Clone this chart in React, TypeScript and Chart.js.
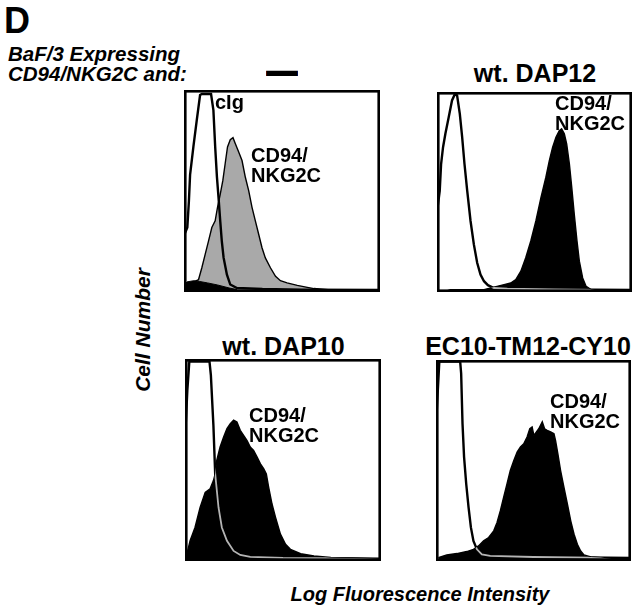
import React, { useEffect, useRef } from "react";
import { Chart, registerables } from "chart.js";

Chart.register(...registerables);

type Pt = [number, number];

// ---- data (x = position across the log-fluorescence axis, 0-100; y = relative cell number, 0-100) ----
const figureLetter = "D";
const headerLines = ["BaF/3 Expressing", "CD94/NKG2C and:"];
const panelTitles = ["—", "wt. DAP12", "wt. DAP10", "EC10-TM12-CY10"];
const xAxisTitle = "Log Fluorescence Intensity";
const yAxisTitle = "Cell Number";
const controlLabel = "cIg";
const stainLabel = ["CD94/", "NKG2C"];

// Panel 1: "—" (no adaptor)
const p1Control: Pt[] = [[0,28],[1.7,32],[2.5,45],[3.1,58],[4.8,72],[6.5,85],[8.2,97.5],[9.1,98],[13.8,98],[15,90],[15.9,72],[16.8,57],[17.6,47],[18.5,35],[19.3,25],[20.2,17],[21.9,8.6],[23.6,3.7],[27,2],[40,1.5],[60,1.2],[100,1.0]];
const p1Stain: Pt[] = [[1,1],[3.1,4.5],[5.6,5.3],[7.4,6.1],[9.1,12],[10.8,18.6],[12.5,25.2],[14.2,31.9],[15.9,35.2],[17.1,41.9],[18.5,48.5],[19.8,55.1],[21,63.5],[22.2,71.8],[23.6,75.4],[25,76.4],[26.2,73.4],[27.9,69.3],[29.6,65.1],[31.3,56.8],[33,50.2],[34.7,41.9],[36.4,35.2],[38.1,28.6],[39.8,21.9],[41.5,16.9],[44.1,12],[46.7,7.8],[49.2,5.6],[52.6,4.5],[57.8,3.3],[62.9,2.3],[66.3,1.7],[75,1],[100,0.8]];
const p1StainLow: Pt[] = [[0,3],[1.5,5],[5,5.6],[8,5.2],[12,4.5],[17,3.5],[23,2],[27,1.2]];

// Panel 2: wt. DAP12
const p2Control: Pt[] = [[0,40],[1.4,50.6],[2.1,64],[3.1,72.4],[4.3,79.1],[6,87.4],[7.7,95.8],[9.1,98.8],[10.3,98.3],[11.7,89.1],[12.9,77.4],[14.1,64],[15.5,50.6],[17.2,35.5],[18.9,23.8],[20.6,14.6],[22.3,8.7],[24.1,5.4],[26.1,3.4],[29.2,2],[36.1,1.7],[60,1.3],[100,1.0]];
const p2Stain: Pt[] = [[5,0.5],[6.9,1.2],[24.1,1.2],[34.4,3.7],[37.8,4.5],[40.4,6.2],[43,10.4],[45.5,17.1],[48.1,25.5],[50.7,35.5],[53.3,47.2],[55.8,57.3],[57.6,65.7],[59.3,72.4],[61,77.4],[62.7,80.7],[63.9,81.6],[65.3,79.1],[66.5,74],[67.9,64],[69.1,52.3],[70.4,38.9],[71.8,25.5],[73,15.4],[74.7,7],[76.5,2.8],[79,1.2],[85,0.5]];

// Panel 3: wt. DAP10
const p3Control: Pt[] = [[0,60],[1.2,84.6],[2.2,98.7],[12.5,98.7],[13.2,92],[14.5,67],[15.4,43.1],[17.1,26.5],[18.8,16.6],[21.4,10],[24.8,5],[28.2,3],[33.3,2],[50,1.5],[100,1.2]];
const p3Stain: Pt[] = [[0.9,3.3],[2.6,10],[5.1,16.6],[7.7,26.5],[10.3,34],[12.8,35.7],[14.5,39.8],[15.4,43.1],[16.2,49.8],[17.9,56.4],[19.7,61.4],[21.4,65.5],[23.1,68],[24.8,69.7],[26.5,68.8],[28.2,64.7],[29.9,62.2],[31.6,59.7],[33.3,56.4],[35,54.7],[36.8,51.4],[38.5,48.1],[40.2,45.6],[41.5,43.1],[42.7,36.5],[44.4,28.2],[46.2,21.6],[48.7,13.3],[51.3,8.3],[53.8,5.8],[59,3.6],[65.8,2.5],[74.4,1.7],[91.5,1.3],[100,1]];

// Panel 4: EC10-TM12-CY10
const p4Control: Pt[] = [[0,50],[0.3,73.3],[1.7,99.2],[12.4,99.2],[12.9,93.3],[13.6,68.3],[14.4,51.7],[15.5,38.3],[16.7,26.7],[17.9,16.7],[19.2,10],[21,5.8],[23.5,3.3],[27.8,2.5],[50,2],[100,1.5]];
const p4Stain: Pt[] = [[1.2,1.7],[5.5,3],[10.7,3.7],[15.8,4.7],[19.2,5.8],[21.8,7.5],[24.4,10],[27,11.7],[29.6,15],[31.3,19.2],[33,25],[34.7,31.7],[36.4,38.3],[38.1,45],[39.9,50],[41.6,54.2],[43.3,56.7],[45,58.3],[46.7,61.7],[48.1,65.8],[49.3,66.7],[50.2,62.5],[51.5,64.2],[52.7,65.8],[54.5,69.2],[55.7,65.8],[57,65],[58.8,64.2],[60.5,63.3],[61.3,60],[62.5,53.3],[63.9,45],[65.6,36.7],[67.4,28.3],[69.1,20],[70.8,13.3],[72.5,8.3],[74.2,5],[75.9,3],[79.4,2],[84.5,1.7],[90,1]];

const FONT = "'Liberation Sans', Arial, Helvetica, sans-serif";

const boxPlugin = {
  id: "panelBox",
  afterDraw(chart: any) {
    const ctx = chart.ctx;
    ctx.save();
    ctx.strokeStyle = "#000";
    ctx.lineWidth = 2.6;
    ctx.strokeRect(1.3, 1.3, chart.width - 2.6, chart.height - 2.6);
    ctx.restore();
  },
};

const overlayPlugin = {
  id: "controlOverFill",
  afterDatasetsDraw(chart: any, _args: any, opts: any) {
    if (!opts || !opts.enabled) return;
    const ctx = chart.ctx;
    const fillMeta = chart.getDatasetMeta(opts.fillIndex);
    const lineMeta = chart.getDatasetMeta(0);
    const y0 = chart.scales.y.getPixelForValue(0);
    const fp = fillMeta.data;
    if (!fp.length) return;
    ctx.save();
    ctx.beginPath();
    ctx.moveTo(fp[0].x, y0);
    fp.forEach((p: any) => ctx.lineTo(p.x, p.y));
    ctx.lineTo(fp[fp.length - 1].x, y0);
    ctx.closePath();
    ctx.clip();
    ctx.beginPath();
    lineMeta.data.forEach((p: any, i: number) => (i ? ctx.lineTo(p.x, p.y) : ctx.moveTo(p.x, p.y)));
    ctx.strokeStyle = "#b4b4b4";
    ctx.lineWidth = 1.8;
    ctx.stroke();
    ctx.restore();
  },
};

type HistProps = {
  left: number; top: number; width: number; height: number;
  control: Pt[]; stain: Pt[]; stainLow?: Pt[]; fillColor: string; overlay: boolean;
};

function Histogram({ left, top, width, height, control, stain, stainLow, fillColor, overlay }: HistProps) {
  const ref = useRef<HTMLCanvasElement>(null);
  useEffect(() => {
    if (!ref.current) return;
    const toXY = (a: Pt[]) => a.map(([x, y]) => ({ x, y }));
    const datasets: any[] = [
      { data: toXY(control), borderColor: "#000", borderWidth: 2.4, fill: false, pointRadius: 0, tension: 0 },
    ];
    if (stainLow) {
      datasets.push({ data: toXY(stainLow), borderColor: "#000", borderWidth: 1, backgroundColor: "#000", fill: "origin", pointRadius: 0, tension: 0 });
    }
    datasets.push({ data: toXY(stain), borderColor: "#000", borderWidth: 1.4, backgroundColor: fillColor, fill: "origin", pointRadius: 0, tension: 0 });
    const chart = new Chart(ref.current, {
      type: "line",
      data: { datasets },
      options: {
        animation: false,
        responsive: false,
        events: [],
        layout: { padding: 0 },
        scales: {
          x: { type: "linear", min: 0, max: 100, display: false },
          y: { type: "linear", min: 0, max: 100, display: false },
        },
        plugins: {
          legend: { display: false },
          tooltip: { enabled: false },
          controlOverFill: { enabled: overlay, fillIndex: datasets.length - 1 },
        } as any,
      },
      plugins: [boxPlugin, overlayPlugin],
    });
    return () => chart.destroy();
  }, []);
  return <canvas ref={ref} width={width} height={height} style={{ position: "absolute", left, top, width, height }} />;
}

function Text({ x, baseline, size, children, italic, center, width, scaleY }: any) {
  const top = baseline - 0.8465 * size;
  const style: React.CSSProperties = {
    position: "absolute",
    top,
    left: center ? x - (width || 300) / 2 : x,
    width: center ? width || 300 : undefined,
    textAlign: center ? "center" : "left",
    fontFamily: FONT,
    fontWeight: "bold",
    fontStyle: italic ? "italic" : "normal",
    fontSize: size,
    lineHeight: `${size}px`,
    whiteSpace: "nowrap",
    color: "#000",
    transform: scaleY ? `scaleY(${scaleY})` : undefined,
  };
  return <div style={style}>{children}</div>;
}

function StainLabel({ x, baseline }: { x: number; baseline: number }) {
  return (
    <>
      <Text x={x} baseline={baseline} size={20}>{stainLabel[0]}</Text>
      <Text x={x} baseline={baseline + 20} size={20}>{stainLabel[1]}</Text>
    </>
  );
}

export default function App() {
  return (
    <div style={{ position: "absolute", left: 0, top: 0, width: 640, height: 609, background: "#fff", overflow: "hidden" }}>
      <Text x={4} baseline={33} size={36}>{figureLetter}</Text>
      <Text x={8} baseline={61} size={20.5} italic>{headerLines[0]}</Text>
      <Text x={8} baseline={81} size={20.5} italic>{headerLines[1]}</Text>

      <Text x={282} baseline={80} size={32} center width={60} scaleY={1.7}>{panelTitles[0]}</Text>
      <Text x={535} baseline={82} size={25} center>{panelTitles[1]}</Text>
      <Text x={283.5} baseline={355} size={25} center>{panelTitles[2]}</Text>
      <Text x={528} baseline={355} size={25} center>{panelTitles[3]}</Text>

      <Histogram left={184} top={90} width={196} height={202} control={p1Control} stain={p1Stain} stainLow={p1StainLow} fillColor="#a9a9a9" overlay={false} />
      <Histogram left={437} top={92} width={195} height={200} control={p2Control} stain={p2Stain} fillColor="#000" overlay={true} />
      <Histogram left={185} top={359} width={196} height={202} control={p3Control} stain={p3Stain} fillColor="#000" overlay={true} />
      <Histogram left={436} top={360} width={195} height={201} control={p4Control} stain={p4Stain} fillColor="#000" overlay={true} />

      <Text x={215} baseline={109} size={20}>{controlLabel}</Text>
      <StainLabel x={251} baseline={162} />
      <StainLabel x={555} baseline={110} />
      <StainLabel x={249} baseline={422} />
      <StainLabel x={550} baseline={408} />

      <Text x={420} baseline={601} size={20} italic center width={400}>{xAxisTitle}</Text>
      <div
        style={{
          position: "absolute",
          left: 143 - 100,
          top: 330 - 11,
          width: 200,
          height: 22,
          transform: "rotate(-90deg)",
          transformOrigin: "50% 50%",
          textAlign: "center",
          fontFamily: FONT,
          fontWeight: "bold",
          fontStyle: "italic",
          fontSize: 21,
          lineHeight: "22px",
          whiteSpace: "nowrap",
        }}
      >
        {yAxisTitle}
      </div>
    </div>
  );
}
